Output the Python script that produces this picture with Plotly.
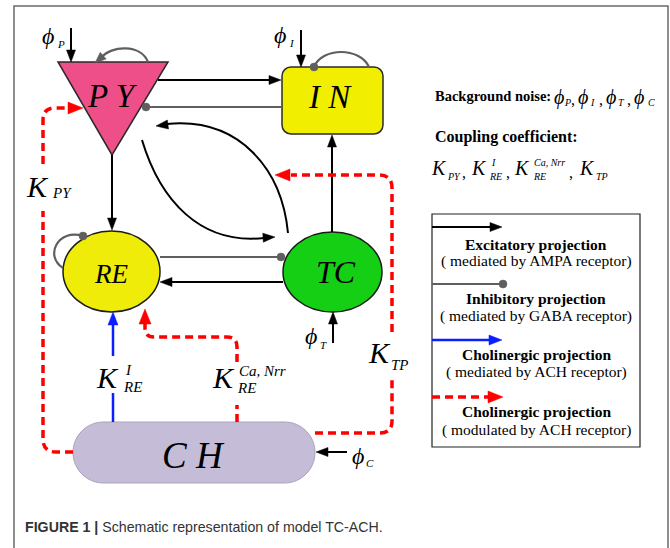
import math
import plotly.graph_objects as go

# ---------------- text content ----------------
node_names = ["P Y", "I N", "RE", "TC", "C H"]
noise_symbol = "ϕ"
noise_subs = ["P", "I", "T", "C"]
coupling_base = "K"
coupling_sups = ["", "I", "Ca, Nrr", ""]
coupling_subs = ["PY", "RE", "RE", "TP"]
info_titles = ["Background noise:", "Coupling coefficient:"]
legend_titles = ["Excitatory projection", "Inhibitory projection",
                 "Cholinergic projection", "Cholinergic projection"]
legend_notes = ["( mediated by AMPA receptor)", "( mediated by GABA receptor)",
                "( mediated by ACH receptor)", "( modulated by ACH receptor)"]
caption_bold = "FIGURE 1 |"
caption_text = " Schematic representation of model TC-ACH."

# ---------------- styles ----------------
SERIF = "Liberation Serif, Times New Roman, serif"
SANS = "Liberation Sans, Arial, sans-serif"
BLACK = "#000000"
GRAY = "#5f5f5f"
BLUE = "#0a1eff"
RED = "#ff0000"
RED_DASH = "8px,5px"

shapes = []
annots = []


def path(d, color, width, dash=None):
    ln = dict(color=color, width=width)
    if dash:
        ln["dash"] = dash
    shapes.append(dict(type="path", path=d, line=ln,
                       fillcolor="rgba(0,0,0,0)", xref="x", yref="y"))


def head(tx, ty, dx, dy, color=BLACK, L=12, W=9):
    n = math.hypot(dx, dy)
    dx, dy = dx / n, dy / n
    bx, by = tx - L * dx, ty - L * dy
    px, py = -dy, dx
    d = (f"M{tx:.1f},{ty:.1f} L{bx + W / 2 * px:.1f},{by + W / 2 * py:.1f} "
         f"L{bx - W / 2 * px:.1f},{by - W / 2 * py:.1f} Z")
    shapes.append(dict(type="path", path=d, fillcolor=color,
                       line=dict(color=color, width=0.5), xref="x", yref="y"))


def dot(cx, cy, r=4, color=GRAY):
    shapes.append(dict(type="circle", x0=cx - r, x1=cx + r, y0=cy - r, y1=cy + r,
                       fillcolor=color, line=dict(color=color, width=0.5),
                       xref="x", yref="y"))


def txt(x, y, s, size, family=SERIF, color=BLACK, xanchor="center",
        yanchor="middle", weight="normal"):
    annots.append(dict(x=x, y=y, xref="x", yref="y", text=s, showarrow=False,
                       font=dict(size=size, family=family, color=color, weight=weight),
                       xanchor=xanchor, yanchor=yanchor))


def rounded_rect(x0, y0, x1, y1, r):
    k = 0.5523 * r
    return (f"M{x0 + r},{y0} L{x1 - r},{y0} C{x1 - r + k},{y0} {x1},{y0 + r - k} {x1},{y0 + r} "
            f"L{x1},{y1 - r} C{x1},{y1 - r + k} {x1 - r + k},{y1} {x1 - r},{y1} "
            f"L{x0 + r},{y1} C{x0 + r - k},{y1} {x0},{y1 - r + k} {x0},{y1 - r} "
            f"L{x0},{y0 + r} C{x0},{y0 + r - k} {x0 + r - k},{y0} {x0 + r},{y0} Z")


# ---------------- outer frame ----------------
path("M14,548 L14,6 L668,6 L668,548", "#6a6a6a", 1.5)

# ---------------- nodes ----------------
shapes.append(dict(type="path", path="M58,62 L168,62 L112,155 Z",
                   fillcolor="#ef4f88", line=dict(color="#2a2a2a", width=1.5)))
shapes.append(dict(type="path", path=rounded_rect(282, 67, 383, 134, 9),
                   fillcolor="#f2ee00", line=dict(color="#2a2a2a", width=1.5)))
shapes.append(dict(type="circle", x0=63, x1=160, y0=231, y1=312,
                   fillcolor="#eeec08", line=dict(color="#1a1a1a", width=1.5)))
shapes.append(dict(type="circle", x0=283, x1=382, y0=232, y1=312,
                   fillcolor="#14cf14", line=dict(color="#1a1a1a", width=1.5)))
shapes.append(dict(type="path", path=rounded_rect(73, 422, 315, 483, 30.5),
                   fillcolor="#c5bdd7", line=dict(color="#aaa2bb", width=1)))

# ---------------- edges ----------------
path("M71,28 L71,52", BLACK, 2)
head(71, 62, 0, 1)
path("M301,30 L301,57", BLACK, 2)
head(301, 67, 0, 1)
path("M148,62 C141,44 111,45 101,58", GRAY, 2.2)
head(95, 63, -1, 0.9, color=GRAY, L=11, W=9)
path("M314,67 C322,47 360,47 369,67", GRAY, 2.2)
dot(314, 67)
path("M158,80 L270,80", BLACK, 2)
head(281, 80, 1, 0)
path("M282,107 L146,107", GRAY, 2.2)
dot(146, 107)
path("M288,233 C282,170 240,117 167,124", BLACK, 2)
head(156, 126, -1, 0.12)
path("M142,140 C160,200 200,245 264,238", BLACK, 2)
head(275, 237, 1, -0.06)
path("M112,155 L112,219", BLACK, 2)
head(112, 230, 0, 1)
path("M160,257 L280,257", GRAY, 2.2)
dot(281, 257)
path("M283,282 L171,282", BLACK, 2)
head(160, 282, -1, 0)
path("M332,232 L332,145", BLACK, 2)
head(332, 135, 0, -1)
path("M333,343 L333,322", BLACK, 2)
head(333, 312, 0, -1)
path("M83,236 C58,228 44,256 63,268", GRAY, 2.2)
dot(83, 236)
path("M113,422 L113,393", BLUE, 2.5)
path("M113,356 L113,324", BLUE, 2.5)
head(113, 312, 0, -1, color=BLUE, L=13, W=10)
path("M237,422 L237,405", RED, 3.5, RED_DASH)
path("M237,362 L237,347 Q237,337 227,337 L154,337 Q145,337 145,328 L145,324", RED, 3.5, RED_DASH)
head(145, 309, 0, -1, color=RED, L=15, W=12)
path("M73,452 L56,452 Q43,452 43,439 L43,211", RED, 3.5, RED_DASH)
path("M43,164 L43,120 Q43,108 55,108 L68,108", RED, 3.5, RED_DASH)
head(83, 108, 1, 0, color=RED, L=15, W=12)
path("M315,433 L380,433 Q392,433 392,421 L392,378", RED, 3.5, RED_DASH)
path("M392,332 L392,188 Q392,175 379,175 L291,175", RED, 3.5, RED_DASH)
head(275, 175, -1, 0, color=RED, L=15, W=12)
path("M347,452 L327,452", BLACK, 2)
head(316, 452, -1, 0)

# ---------------- node labels ----------------
txt(112, 96, f"<i>{node_names[0]}</i>", 33)
txt(330, 97, f"<i>{node_names[1]}</i>", 33)
txt(111, 274, f"<i>{node_names[2]}</i>", 27)
txt(336, 272, f"<i>{node_names[3]}</i>", 32)
txt(193, 455, f"<i>{node_names[4]}</i>", 37)

phi_pos = [(48, 36, 61, 44), (280, 35, 292, 43), (311, 336, 323, 345), (358, 456, 370, 463)]
for (px, py, sx, sy), s in zip(phi_pos, noise_subs):
    txt(px, py, f"<i>{noise_symbol}</i>", 24)
    txt(sx, sy, f"<i>{s}</i>", 11)

K_main = [(37, 186), (107, 377), (223, 377), (379, 352)]
K_sup = [None, (128, 370), (262, 371), None]
K_sub = [(62, 193), (132, 387), (246, 388), (400, 365)]
for i in range(4):
    txt(K_main[i][0], K_main[i][1], f"<i>{coupling_base}</i>", 30)
    if K_sup[i]:
        txt(K_sup[i][0], K_sup[i][1], f"<i>{coupling_sups[i]}</i>", 15)
    txt(K_sub[i][0], K_sub[i][1], f"<i>{coupling_subs[i]}</i>", 15)

# ---------------- info text ----------------
txt(433, 96, info_titles[0], 14.5, xanchor="left", weight="bold")
phi2_main = [559, 583, 611, 639]
phi2_sub = [567, 592, 621, 651]
phi2_comma = [573, 601, 629]
for x in phi2_main:
    txt(x, 97, f"<i>{noise_symbol}</i>", 20)
for x, s in zip(phi2_sub, noise_subs):
    txt(x, 102, f"<i>{s}</i>", 10)
for x in phi2_comma:
    txt(x, 99, ",", 16)
txt(433, 137, info_titles[1], 16, xanchor="left", weight="bold")

k_main2 = [439, 479, 522, 587]
k_sup2 = [None, 493, 549, None]
k_sub2 = [454, 495, 539, 602]
k_comma = [464, 508, 571]
for i in range(4):
    txt(k_main2[i], 168, f"<i>{coupling_base}</i>", 20)
    if k_sup2[i]:
        txt(k_sup2[i], 162, f"<i>{coupling_sups[i]}</i>", 10)
    txt(k_sub2[i], 176, f"<i>{coupling_subs[i]}</i>", 10)
for cx in k_comma:
    txt(cx, 172, ",", 16)

# ---------------- legend box ----------------
shapes.append(dict(type="rect", x0=432, x1=640, y0=214, y1=447,
                   line=dict(color="#222222", width=1.2), fillcolor="rgba(0,0,0,0)"))
path("M432,227 L491,227", BLACK, 2)
head(502, 227, 1, 0)
path("M432,284 L503,284", GRAY, 2.2)
dot(503, 284)
path("M432,340 L491,340", BLUE, 2.5)
head(502, 340, 1, 0, color=BLUE, L=13, W=10)
path("M432,397 L488,397", RED, 3.5, RED_DASH)
head(503, 397, 1, 0, color=RED, L=15, W=12)

title_y = [244, 298, 354, 411]
note_y = [261, 316, 372, 430]
for t, n, ty, ny in zip(legend_titles, legend_notes, title_y, note_y):
    txt(536, ty, t, 15.5, weight="bold")
    txt(536, ny, n, 15.5)

# ---------------- caption ----------------
txt(23, 527, f"<b>{caption_bold}</b>{caption_text}", 14.2, family=SANS,
    color="#333333", xanchor="left")

fig = go.Figure()
fig.update_layout(
    width=670, height=548,
    margin=dict(l=0, r=0, t=0, b=0),
    paper_bgcolor="white", plot_bgcolor="white",
    xaxis=dict(range=[0, 670], visible=False, fixedrange=True),
    yaxis=dict(range=[548, 0], visible=False, fixedrange=True),
    shapes=shapes, annotations=annots, showlegend=False,
)
fig.write_html("out.html", config={"displayModeBar": False},
               post_script="document.body.style.margin='0px';")
